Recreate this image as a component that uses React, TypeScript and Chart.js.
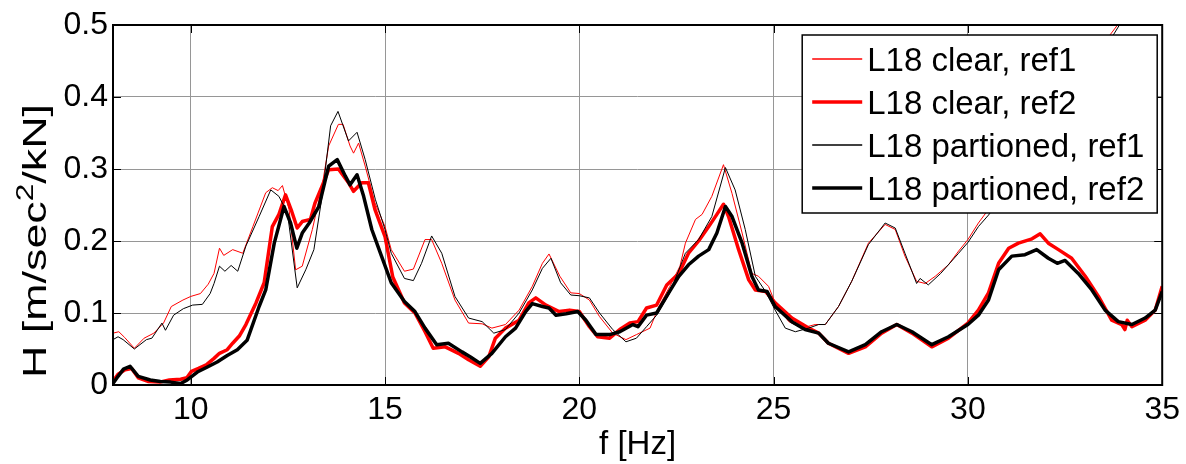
import React, { useEffect, useRef } from "react";
import { Chart, registerables } from "chart.js";

Chart.register(...registerables);

const FONT = '"Liberation Sans", Arial, Helvetica, sans-serif';

const xTicks = [10, 15, 20, 25, 30, 35];
const yTicks = [0, 0.1, 0.2, 0.3, 0.4, 0.5];
const seriesLabels = ["L18 clear, ref1", "L18 clear, ref2", "L18 partioned, ref1", "L18 partioned, ref2"];
const xTitle = "f [Hz]";

// L18 clear, ref1 (thin red)
const clearRef1F = [8.0, 8.15, 8.3, 8.55, 8.8, 9.05, 9.3, 9.5, 9.8, 10.0, 10.25, 10.45, 10.6, 10.74, 10.85, 11.08, 11.34, 11.6, 11.93, 12.1, 12.25, 12.36, 12.53, 12.7, 12.87, 13.13, 13.38, 13.55, 13.8, 13.92, 14.1, 14.19, 14.32, 14.49, 14.74, 15.0, 15.16, 15.5, 15.73, 16.03, 16.2, 16.46, 16.8, 17.15, 17.5, 17.75, 18.1, 18.45, 18.79, 19.05, 19.22, 19.5, 19.78, 20.0, 20.26, 20.52, 20.86, 21.2, 21.47, 21.82, 22.04, 22.33, 22.59, 22.73, 22.99, 23.16, 23.41, 23.71, 23.93, 24.19, 24.44, 24.61, 24.87, 25.04, 25.39, 25.73, 26.07, 26.33, 26.67, 27.01, 27.44, 27.87, 28.13, 28.38, 28.68, 28.9, 29.16, 29.5, 29.76, 30.0, 30.27, 30.53, 31.0, 31.5, 32.0, 32.5, 33.0, 33.5, 33.85, 34.2, 34.6, 35.0];
const clearRef1H = [0.072, 0.074, 0.066, 0.051, 0.065, 0.072, 0.086, 0.109, 0.118, 0.123, 0.127, 0.14, 0.155, 0.19, 0.18, 0.188, 0.183, 0.22, 0.267, 0.274, 0.27, 0.277, 0.244, 0.16, 0.165, 0.216, 0.276, 0.332, 0.362, 0.362, 0.332, 0.322, 0.336, 0.304, 0.253, 0.22, 0.188, 0.158, 0.161, 0.202, 0.202, 0.169, 0.118, 0.086, 0.085, 0.079, 0.084, 0.104, 0.137, 0.169, 0.182, 0.151, 0.128, 0.127, 0.118, 0.095, 0.072, 0.063, 0.07, 0.079, 0.108, 0.137, 0.165, 0.197, 0.23, 0.237, 0.262, 0.306, 0.266, 0.211, 0.155, 0.151, 0.137, 0.114, 0.088, 0.079, 0.084, 0.084, 0.109, 0.144, 0.197, 0.223, 0.216, 0.179, 0.144, 0.141, 0.151, 0.167, 0.186, 0.202, 0.225, 0.244, 0.28, 0.32, 0.36, 0.4, 0.44, 0.475, 0.5, 0.54, 0.58, 0.62];

// L18 clear, ref2 (thick red)
const clearRef2F = [8.0, 8.13, 8.31, 8.48, 8.65, 8.9, 9.2, 9.45, 9.74, 9.9, 10.02, 10.2, 10.4, 10.6, 10.74, 10.94, 11.08, 11.25, 11.42, 11.68, 11.89, 12.1, 12.27, 12.44, 12.6, 12.74, 12.87, 13.08, 13.2, 13.38, 13.55, 13.8, 14.06, 14.19, 14.4, 14.57, 14.74, 15.0, 15.2, 15.5, 15.77, 16.03, 16.24, 16.55, 16.89, 17.15, 17.45, 17.67, 17.84, 18.1, 18.45, 18.7, 18.88, 19.14, 19.48, 19.75, 20.0, 20.26, 20.47, 20.78, 21.04, 21.3, 21.51, 21.73, 21.99, 22.25, 22.56, 22.81, 23.07, 23.33, 23.54, 23.71, 23.84, 24.1, 24.36, 24.53, 24.79, 25.04, 25.47, 25.9, 26.16, 26.41, 26.93, 27.36, 27.78, 28.17, 28.56, 29.07, 29.5, 30.0, 30.27, 30.53, 30.79, 31.05, 31.3, 31.65, 31.86, 32.07, 32.33, 32.67, 33.02, 33.36, 33.7, 33.96, 34.04, 34.1, 34.22, 34.56, 34.82, 35.0];
const clearRef2H = [0.005, 0.015, 0.021, 0.023, 0.01, 0.005, 0.004, 0.007, 0.008, 0.01, 0.019, 0.023, 0.028, 0.037, 0.044, 0.049, 0.058, 0.068, 0.084, 0.114, 0.142, 0.22, 0.237, 0.264, 0.241, 0.218, 0.227, 0.23, 0.253, 0.276, 0.299, 0.3, 0.281, 0.269, 0.281, 0.281, 0.244, 0.206, 0.15, 0.114, 0.1, 0.074, 0.051, 0.053, 0.044, 0.035, 0.026, 0.039, 0.065, 0.079, 0.09, 0.114, 0.121, 0.111, 0.102, 0.104, 0.102, 0.081, 0.067, 0.065, 0.077, 0.086, 0.088, 0.107, 0.111, 0.139, 0.155, 0.183, 0.2, 0.22, 0.237, 0.251, 0.234, 0.188, 0.146, 0.132, 0.13, 0.114, 0.093, 0.079, 0.072, 0.058, 0.044, 0.053, 0.072, 0.084, 0.072, 0.053, 0.065, 0.086, 0.104, 0.128, 0.169, 0.19, 0.197, 0.203, 0.21, 0.197, 0.188, 0.176, 0.151, 0.123, 0.09, 0.084, 0.077, 0.09, 0.081, 0.09, 0.104, 0.137];

// L18 partioned, ref1 (thin black)
const partRef1F = [8.0, 8.13, 8.26, 8.55, 8.86, 9.0, 9.26, 9.35, 9.56, 9.81, 10.05, 10.3, 10.5, 10.6, 10.74, 10.88, 11.04, 11.21, 11.42, 11.76, 12.06, 12.27, 12.49, 12.74, 12.96, 13.17, 13.38, 13.6, 13.79, 14.06, 14.28, 14.49, 14.75, 15.0, 15.16, 15.5, 15.73, 15.94, 16.2, 16.46, 16.8, 17.15, 17.5, 17.8, 18.1, 18.45, 18.79, 19.05, 19.27, 19.52, 19.78, 20.0, 20.26, 20.52, 20.86, 21.2, 21.47, 21.73, 21.99, 22.33, 22.73, 23.07, 23.41, 23.76, 24.01, 24.27, 24.53, 24.79, 25.04, 25.3, 25.56, 25.9, 26.16, 26.33, 26.67, 27.01, 27.44, 27.87, 28.13, 28.38, 28.68, 28.77, 28.98, 29.3, 29.76, 30.0, 30.27, 30.53, 31.0, 31.5, 32.0, 32.5, 33.0, 33.5, 33.9, 34.3, 34.7, 35.0];
const partRef1H = [0.063, 0.067, 0.063, 0.05, 0.063, 0.065, 0.086, 0.076, 0.097, 0.106, 0.111, 0.112, 0.127, 0.141, 0.165, 0.158, 0.166, 0.158, 0.193, 0.234, 0.271, 0.262, 0.239, 0.135, 0.16, 0.188, 0.262, 0.36, 0.38, 0.339, 0.351, 0.313, 0.258, 0.216, 0.183, 0.148, 0.145, 0.169, 0.207, 0.183, 0.123, 0.093, 0.088, 0.072, 0.077, 0.1, 0.132, 0.162, 0.176, 0.142, 0.125, 0.124, 0.121, 0.1, 0.077, 0.06, 0.065, 0.081, 0.097, 0.128, 0.183, 0.202, 0.234, 0.302, 0.271, 0.216, 0.151, 0.13, 0.104, 0.079, 0.074, 0.079, 0.084, 0.084, 0.109, 0.144, 0.195, 0.225, 0.218, 0.183, 0.141, 0.148, 0.139, 0.155, 0.183, 0.198, 0.22, 0.236, 0.27, 0.31, 0.35, 0.39, 0.43, 0.465, 0.5, 0.54, 0.58, 0.61];

// L18 partioned, ref2 (thick black)
const partRef2F = [8.0, 8.13, 8.27, 8.44, 8.65, 8.96, 9.22, 9.48, 9.74, 9.91, 10.17, 10.43, 10.68, 10.94, 11.2, 11.45, 11.76, 11.93, 12.15, 12.4, 12.57, 12.73, 12.87, 13.05, 13.3, 13.55, 13.77, 13.98, 14.1, 14.28, 14.45, 14.66, 14.91, 15.16, 15.5, 15.77, 16.03, 16.33, 16.63, 16.98, 17.2, 17.45, 17.75, 18.1, 18.36, 18.62, 18.79, 19.05, 19.22, 19.4, 19.66, 19.96, 20.17, 20.43, 20.78, 21.04, 21.38, 21.51, 21.73, 21.99, 22.3, 22.56, 22.81, 23.07, 23.33, 23.54, 23.76, 23.93, 24.19, 24.44, 24.61, 24.83, 25.04, 25.47, 25.81, 26.16, 26.41, 26.93, 27.36, 27.78, 28.17, 28.56, 29.07, 29.5, 30.0, 30.27, 30.53, 30.79, 31.13, 31.47, 31.77, 32.07, 32.3, 32.5, 32.84, 33.19, 33.53, 33.87, 34.22, 34.56, 34.82, 35.0];
const partRef2H = [0.002, 0.012, 0.022, 0.026, 0.012, 0.007, 0.005, 0.004, 0.002, 0.007, 0.018, 0.025, 0.032, 0.041, 0.049, 0.062, 0.109, 0.132, 0.197, 0.248, 0.225, 0.19, 0.211, 0.225, 0.248, 0.304, 0.313, 0.29, 0.278, 0.292, 0.262, 0.216, 0.179, 0.142, 0.116, 0.102, 0.079, 0.056, 0.058, 0.046, 0.039, 0.03, 0.044, 0.067, 0.079, 0.102, 0.113, 0.109, 0.107, 0.097, 0.099, 0.102, 0.09, 0.07, 0.07, 0.074, 0.084, 0.081, 0.097, 0.1, 0.128, 0.151, 0.167, 0.179, 0.188, 0.211, 0.248, 0.234, 0.197, 0.151, 0.132, 0.13, 0.109, 0.088, 0.077, 0.072, 0.058, 0.046, 0.056, 0.074, 0.084, 0.074, 0.056, 0.067, 0.084, 0.097, 0.118, 0.16, 0.179, 0.181, 0.188, 0.176, 0.169, 0.173, 0.155, 0.132, 0.104, 0.088, 0.084, 0.093, 0.104, 0.13];

const seriesColors = ["#ff0000", "#ff0000", "#000000", "#000000"];
const seriesWidths = [1, 3.5, 1, 3.5];

const toPoints = (f: number[], h: number[]) => f.map((x, i) => ({ x, y: h[i] }));

const framePlugin = {
  id: "matlabFrame",
  afterDatasetsDraw(chart: any) {
    const { ctx, chartArea: a, scales } = chart;
    ctx.save();
    // inward tick marks on all four sides
    ctx.strokeStyle = "#000";
    ctx.lineWidth = 1;
    const tl = 8;
    ctx.beginPath();
    xTicks.forEach((v) => {
      const px = Math.round(scales.x.getPixelForValue(v)) + 0.5;
      ctx.moveTo(px, a.bottom);
      ctx.lineTo(px, a.bottom - tl);
      ctx.moveTo(px, a.top);
      ctx.lineTo(px, a.top + tl);
    });
    yTicks.forEach((v) => {
      const py = Math.round(scales.y.getPixelForValue(v)) + 0.5;
      ctx.moveTo(a.left, py);
      ctx.lineTo(a.left + tl, py);
      ctx.moveTo(a.right, py);
      ctx.lineTo(a.right - tl, py);
    });
    ctx.stroke();
    // axes box
    ctx.lineWidth = 2;
    ctx.strokeRect(a.left, a.top, a.right - a.left, a.bottom - a.top);

    // legend
    const bx = a.right - 360;
    const by = a.top + 10;
    const bw = 355;
    const bh = 178;
    ctx.fillStyle = "#fff";
    ctx.fillRect(bx, by, bw, bh);
    ctx.lineWidth = 1.5;
    ctx.strokeStyle = "#000";
    ctx.strokeRect(bx, by, bw, bh);
    ctx.font = `33px ${FONT}`;
    ctx.textBaseline = "alphabetic";
    ctx.textAlign = "left";
    seriesLabels.forEach((lab, i) => {
      const ly = by + 24 + i * 43;
      ctx.beginPath();
      ctx.strokeStyle = seriesColors[i];
      ctx.lineWidth = seriesWidths[i] === 1 ? 1.3 : seriesWidths[i];
      ctx.moveTo(bx + 10, ly);
      ctx.lineTo(bx + 60, ly);
      ctx.stroke();
      ctx.fillStyle = "#000";
      ctx.fillText(lab, bx + 65, ly + 12);
    });

    // y axis title with superscript
    const parts = [
      { t: "H [m/sec", size: 34, dy: 0 },
      { t: "2", size: 24, dy: -13 },
      { t: "/kN]", size: 34, dy: 0 },
    ];
    let total = 0;
    const widths = parts.map((p) => {
      ctx.font = `${p.size}px ${FONT}`;
      const w = ctx.measureText(p.t).width;
      total += w;
      return w;
    });
    const target = 274;
    const sx = target / total;
    ctx.translate(46, 241);
    ctx.rotate(-Math.PI / 2);
    ctx.scale(sx, 1);
    ctx.fillStyle = "#000";
    ctx.textBaseline = "alphabetic";
    let cx = -total / 2;
    parts.forEach((p, i) => {
      ctx.font = `${p.size}px ${FONT}`;
      ctx.fillText(p.t, cx, p.dy);
      cx += widths[i];
    });
    ctx.restore();
  },
};

export default function App() {
  const ref = useRef<HTMLCanvasElement | null>(null);
  useEffect(() => {
    document.body.style.margin = "0";
    const canvas = ref.current;
    if (!canvas) return;
    const sets = [
      [clearRef1F, clearRef1H],
      [clearRef2F, clearRef2H],
      [partRef1F, partRef1H],
      [partRef2F, partRef2H],
    ];
    const chart = new Chart(canvas, {
      type: "line",
      data: {
        datasets: sets.map(([f, h], i) => ({
          label: seriesLabels[i],
          data: toPoints(f as number[], h as number[]),
          borderColor: seriesColors[i],
          backgroundColor: seriesColors[i],
          borderWidth: seriesWidths[i],
          pointRadius: 0,
          tension: 0,
          fill: false,
          order: 4 - i,
          borderJoinStyle: "round" as const,
        })),
      },
      options: {
        animation: false,
        responsive: false,
        devicePixelRatio: 1,
        layout: { padding: { top: 25, right: 23, left: 0, bottom: 0 } },
        plugins: { legend: { display: false }, tooltip: { enabled: false } },
        scales: {
          x: {
            type: "linear",
            min: 8,
            max: 35,
            afterBuildTicks: (s: any) => {
              s.ticks = xTicks.map((v) => ({ value: v }));
            },
            afterFit: (s: any) => {
              s.height = 79;
            },
            ticks: {
              color: "#000",
              font: { family: FONT, size: 32 },
              padding: 6,
              maxRotation: 0,
              autoSkip: false,
              callback: (v: any) => String(v),
            },
            grid: { color: "#969696", lineWidth: 1, drawTicks: false },
            border: { display: false },
            title: {
              display: true,
              text: xTitle,
              color: "#000",
              font: { family: FONT, size: 33, lineHeight: 1.2 },
              padding: { top: 0, bottom: -1 },
            },
          },
          y: {
            type: "linear",
            min: 0,
            max: 0.5,
            afterBuildTicks: (s: any) => {
              s.ticks = yTicks.map((v) => ({ value: v }));
            },
            afterFit: (s: any) => {
              s.width = 113;
            },
            ticks: {
              color: "#000",
              font: { family: FONT, size: 32 },
              padding: 5,
              autoSkip: false,
              callback: (v: any) => String(v),
            },
            grid: { color: "#969696", lineWidth: 1, drawTicks: false },
            border: { display: false },
          },
        },
      },
      plugins: [framePlugin],
    });
    return () => chart.destroy();
  }, []);
  return (
    <div style={{ width: 1186, height: 464, background: "#fff" }}>
      <canvas ref={ref} width={1186} height={464} style={{ display: "block" }} />
    </div>
  );
}
